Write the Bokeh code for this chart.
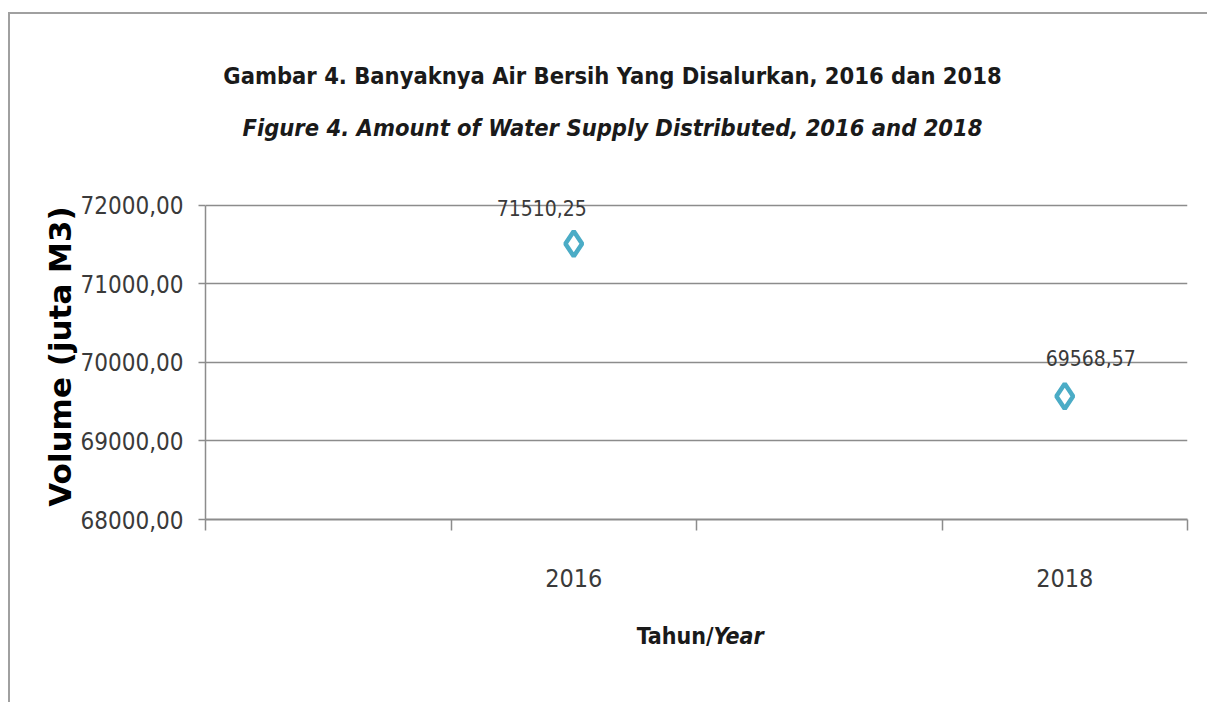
from bokeh.plotting import figure
from bokeh.layouts import column
from bokeh.models import Range1d, FixedTicker, ColumnDataSource
from bokeh.core.properties import value
from bokeh.embed import file_html
from bokeh.resources import INLINE

# ---------------- data ----------------
categories = ["", "2016", "", "2018"]          # Excel category slots (two blank)
years = ["2016", "2018"]
volumes = [71510.25, 69568.57]
volume_labels = ["71510,25", "69568,57"]
y_ticks = [68000, 69000, 70000, 71000, 72000]
y_tick_labels = ["68000,00", "69000,00", "70000,00", "71000,00", "72000,00"]
title_id = "Gambar 4. Banyaknya Air Bersih Yang Disalurkan, 2016 dan 2018"
title_en = "Figure 4. Amount of Water Supply Distributed, 2016 and 2018"
y_title = "Volume (juta M3)"
x_title_id = "Tahun/"
x_title_en = "Year"

# ---------------- styles ----------------
NARROW = "'Liberation Sans Narrow', 'DejaVu Sans Condensed', sans-serif"
GRAY = "#8c8c8c"
TEXT = "#1a1a1a"
TICK_TEXT = "#3a3a3a"
MARKER = "#4bacc6"
W = 1197
BL, BR = 195, 20              # side borders shared by all panels (frames line up)
FX0, FX1 = 205, 1187          # page x of the frame edges, used as text-panel range


def text_panel(height):
    f = figure(width=W, height=height, output_backend="svg", toolbar_location=None,
               x_range=Range1d(FX0, FX1), y_range=Range1d(height, 0),
               x_axis_type=None, y_axis_type=None,
               min_border_left=BL, min_border_right=BR, min_border_top=0, min_border_bottom=0,
               background_fill_color="white", border_fill_color="white")
    f.outline_line_color = None
    f.grid.visible = False
    return f


# ---------------- header (titles) ----------------
header = text_panel(150)
header.text(x=[612], y=[61], text=[title_id], text_align="center", text_baseline="middle",
            text_font=value(NARROW), text_font_style="bold", text_font_size="23.5px",
            text_color=TEXT)
header.text(x=[612], y=[113], text=[title_en], text_align="center", text_baseline="middle",
            text_font=value(NARROW), text_font_style="bold italic", text_font_size="23.5px",
            text_color=TEXT)

# ---------------- main chart ----------------
x_pos = [categories.index(y) + 0.5 for y in years]
slot_edges = list(range(len(categories) + 1))

p = figure(width=W, height=436, output_backend="svg", toolbar_location=None,
           x_range=Range1d(0, len(categories)), y_range=Range1d(y_ticks[0], y_ticks[-1] + 150),
           min_border_left=BL, min_border_right=BR, min_border_top=29, min_border_bottom=81,
           background_fill_color="white", border_fill_color="white")
p.outline_line_color = None
p.xgrid.visible = False
p.ygrid.grid_line_color = GRAY
p.ygrid.grid_line_width = 1.5

p.yaxis.ticker = FixedTicker(ticks=y_ticks)
p.yaxis.bounds = (y_ticks[0], y_ticks[-1])
p.yaxis.major_label_overrides = {t: l for t, l in zip(y_ticks, y_tick_labels)}
p.yaxis.axis_line_color = GRAY
p.yaxis.axis_line_width = 1.5
p.yaxis.major_tick_line_color = GRAY
p.yaxis.major_tick_line_width = 1.5
p.yaxis.major_tick_out = 7
p.yaxis.major_tick_in = 0
p.yaxis.minor_tick_line_color = None
p.yaxis.major_label_text_font = NARROW
p.yaxis.major_label_text_font_size = "24px"
p.yaxis.major_label_text_color = TICK_TEXT
p.yaxis.major_label_standoff = 15
p.yaxis.axis_label = y_title
p.yaxis.axis_label_text_font = "DejaVu Sans"
p.yaxis.axis_label_text_font_style = "bold"
p.yaxis.axis_label_text_font_size = "31px"
p.yaxis.axis_label_text_color = "black"
p.yaxis.axis_label_standoff = 0

p.xaxis.ticker = FixedTicker(ticks=x_pos, minor_ticks=slot_edges)
p.xaxis.major_label_overrides = {x: y for x, y in zip(x_pos, years)}
p.xaxis.axis_line_color = GRAY
p.xaxis.axis_line_width = 2
p.xaxis.major_tick_line_color = None
p.xaxis.major_tick_out = 0
p.xaxis.major_tick_in = 0
p.xaxis.minor_tick_line_color = GRAY
p.xaxis.minor_tick_line_width = 1.5
p.xaxis.minor_tick_out = 11
p.xaxis.minor_tick_in = 0
p.xaxis.major_label_text_font = NARROW
p.xaxis.major_label_text_font_size = "25px"
p.xaxis.major_label_text_color = TICK_TEXT
p.xaxis.major_label_standoff = 38

src = ColumnDataSource(dict(x=x_pos, y=volumes, lab=volume_labels))
p.scatter("x", "y", source=src, marker="diamond", size=25, line_color=MARKER,
          line_width=4.5, fill_color="white")

# data labels, dragged positions as in the original
lsrc = ColumnDataSource(dict(x=x_pos, y=volumes, lab=volume_labels, dx=[-32, 26], dy=[-36, -38]))
p.text(x="x", y="y", text="lab", source=lsrc, x_offset="dx", y_offset="dy",
       text_align="center", text_baseline="middle", text_font=value(NARROW),
       text_font_size="21px", text_color=TICK_TEXT)

# ---------------- footer (x axis title, mixed styles) ----------------
footer = text_panel(102)
footer.text(x=[713], y=[35], text=[x_title_id], text_align="right", text_baseline="middle",
            text_font=value(NARROW), text_font_style="bold", text_font_size="23px",
            text_color=TEXT)
footer.text(x=[713], y=[35], text=[x_title_en], text_align="left", text_baseline="middle",
            text_font=value(NARROW), text_font_style="bold italic", text_font_size="23px",
            text_color=TEXT)

layout = column(header, p, footer, spacing=0)
layout.styles = {"border-left": "2px solid #a0a0a0", "border-top": "2px solid #a0a0a0",
                 "margin-left": "8px", "margin-top": "12px"}

open("out.html", "w").write(file_html(layout, INLINE))
